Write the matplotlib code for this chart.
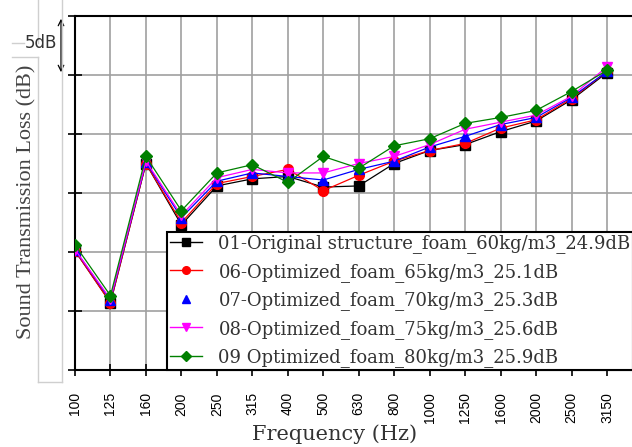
import numpy as np
import matplotlib
matplotlib.use("Agg")
import matplotlib.pyplot as plt
from matplotlib.lines import Line2D

# data (dB; absolute level unknown, 5 dB per grid step)
freqs = ["100", "125", "160", "200", "250", "315", "400", "500", "630",
         "800", "1000", "1250", "1600", "2000", "2500", "3150"]
stl_01 = [20.1, 15.7, 27.5, 22.3, 25.6, 26.2, 26.4, 25.5, 25.6,
          27.5, 28.6, 29.1, 30.2, 31.1, 32.9, 35.2]
stl_06 = [20.1, 15.7, 27.5, 22.5, 25.8, 26.4, 27.0, 25.2, 26.5,
          27.7, 28.6, 29.2, 30.5, 31.2, 33.0, 35.3]
stl_07 = [20.2, 15.9, 27.6, 22.9, 26.0, 26.7, 26.4, 26.1, 27.0,
          27.7, 28.9, 29.8, 30.8, 31.4, 33.1, 35.3]
stl_08 = [20.2, 16.0, 27.7, 23.1, 26.3, 27.0, 26.7, 26.7, 27.5,
          28.1, 29.1, 30.4, 31.0, 31.6, 33.2, 35.7]
stl_09 = [20.6, 16.3, 28.1, 23.5, 26.7, 27.4, 25.9, 28.1, 27.1,
          29.0, 29.6, 30.9, 31.4, 32.0, 33.6, 35.4]

labels = ["01-Original structure_foam_60kg/m3_24.9dB",
          "06-Optimized_foam_65kg/m3_25.1dB",
          "07-Optimized_foam_70kg/m3_25.3dB",
          "08-Optimized_foam_75kg/m3_25.6dB",
          "09 Optimized_foam_80kg/m3_25.9dB"]
series = [stl_01, stl_06, stl_07, stl_08, stl_09]
colours = ["black", "red", "blue", "magenta", "green"]
markers = ["s", "o", "^", "v", "D"]
sizes = [6.5, 7, 7, 7, 6.5]

W, H = 632, 447
fig = plt.figure(figsize=(W / 100, H / 100), dpi=100)
ax = fig.add_axes([75 / W, 1 - 370 / H, (W - 75) / W, (370 - 16) / H])

x = np.arange(len(freqs))
for s, c, m, ms in zip(series, colours, markers, sizes):
    ax.plot(x, s, color=c, marker=m, markersize=ms, linewidth=0.9, zorder=3)

ax.set_xlim(0, (W - 75) / ((607 - 75) / 15))
ax.set_ylim(10, 40)
ax.set_xticks(x)
ax.set_xticklabels(freqs, rotation=90, fontsize=10, family="Liberation Sans")
ax.set_yticks(np.arange(10, 41, 5))
ax.tick_params(axis="y", direction="inout", length=10, width=1.2, labelleft=False)
ax.tick_params(axis="x", direction="inout", length=8, width=1.2, pad=12)
ax.grid(True, color="#a0a0a0", linewidth=1.2)
ax.set_axisbelow(True)
for side in ["left", "top", "bottom"]:
    ax.spines[side].set_linewidth(1.5)
    ax.spines[side].set_color("black")
ax.spines["right"].set_visible(False)

handles = []
for lab, c, m in zip(labels, colours, markers):
    ls = "none" if c == "blue" else "-"
    handles.append(Line2D([], [], color=c, marker=m, markersize=5.5, linestyle=ls, linewidth=1))
leg = ax.legend(handles, labels, loc="lower left",
                bbox_to_anchor=((167 - 75) / (W - 75), 0), borderaxespad=0,
                prop={"family": "DejaVu Serif", "size": 13}, labelspacing=0.53,
                handlelength=1.8, handletextpad=0.9, borderpad=0.15,
                frameon=True, fancybox=False, framealpha=1)
leg.get_frame().set_edgecolor("black")
leg.get_frame().set_linewidth(1.5)
for t in leg.get_texts():
    t.set_color("#333333")

fig.text(27 / W, 1 - 202 / H, "Sound Transmission Loss (dB)", rotation=90,
         ha="center", va="center", fontsize=16, family="Liberation Serif", color="#444444")
fig.text(335 / W, 1 - 434 / H, "Frequency (Hz)", ha="center", va="center",
         fontsize=15, family="DejaVu Serif", color="#333333")

# faint leftover frame on the left side
grey = "#cfcfcf"
for xs, ys in [([38, 38], [0, 43]), ([12, 24], [43, 43]), ([38, 38], [57, 382]),
               ([38, 62], [382, 382]), ([62, 62], [0, 382]), ([12, 38], [57, 57])]:
    fig.add_artist(Line2D([v / W for v in xs], [1 - v / H for v in ys],
                          color=grey, linewidth=1, transform=fig.transFigure))

# 5 dB scale marker
fig.text(41 / W, 1 - 43 / H, "5dB", ha="center", va="center", fontsize=12,
         family="DejaVu Sans", color="#333333")
ax.annotate("", xy=(-14 / 35.47, 40), xytext=(-14 / 35.47, 35),
            arrowprops=dict(arrowstyle="<->", color="black", lw=0.9),
            annotation_clip=False)

fig.savefig("out.png", dpi=100)
